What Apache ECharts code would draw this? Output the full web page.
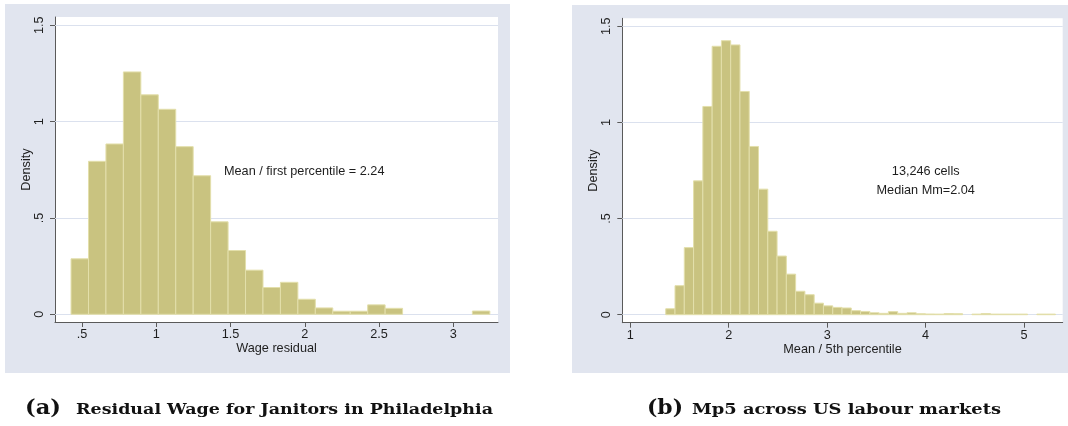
<!DOCTYPE html>
<html>
<head>
<meta charset="utf-8">
<script src="https://cdn.jsdelivr.net/npm/echarts@6/dist/echarts.min.js"></script>
<style>
html,body{margin:0;padding:0;background:#fff;}
#chart{width:1068px;height:426px;}
</style>
</head>
<body>
<div id="chart"></div>
<script>
// ---------- DATA ----------
// Panel (a): histogram of residual wage (density per bin)
const leftBinStart = 0.426;
const leftBinWidth = 0.1175;
const leftDensity = [0.288, 0.794, 0.884, 1.258, 1.139, 1.064, 0.870, 0.719, 0.480, 0.331,
                     0.229, 0.139, 0.166, 0.078, 0.033, 0.016, 0.016, 0.049, 0.031, 0,
                     0, 0, 0, 0.017];
// Panel (b): histogram of Mp5 across labour markets
const rightBinStart = 1.36;
const rightBinWidth = 0.09426;
const rightDensity = [0.031, 0.151, 0.349, 0.696, 1.083, 1.396, 1.425, 1.403, 1.161, 0.875,
                      0.653, 0.434, 0.305, 0.211, 0.122, 0.104, 0.060, 0.046, 0.038, 0.035,
                      0.021, 0.017, 0.010, 0.007, 0.016, 0.007, 0.010, 0.005, 0.0035, 0.003,
                      0.006, 0.005, 0, 0.003, 0.006, 0.003, 0.003, 0.003, 0.003, 0,
                      0.003, 0.003];
const leftXTicks = [0.5, 1, 1.5, 2, 2.5, 3];
const rightXTicks = [1, 2, 3, 4, 5];
const yTicks = [0, 0.5, 1, 1.5];
const leftXTitle = 'Wage residual';
const rightXTitle = 'Mean / 5th percentile';
const yTitle = 'Density';
const leftNote = 'Mean / first percentile = 2.24';
const rightNotes = ['13,246 cells', 'Median Mm=2.04'];
const captionA = ['(a)', 'Residual Wage for Janitors in Philadelphia'];
const captionB = ['(b)', 'Mp5 across US labour markets'];

// ---------- STYLE ----------
const SANS = '"Liberation Sans", Arial, sans-serif';
const SERIF = '"DejaVu Serif", "Liberation Serif", serif';
const TXT = '#1e1e1e';
const AXIS = '#5a5a5a';
const FILL = '#c9c380';
const EDGE = '#e3dfab';
const GRIDC = '#dbe1ee';
const BG = '#e1e5ef';
const FS = 12.7;

function fmt(v){ return String(v).replace(/^0\./, '.'); }

function bins(start, w, dens){
  return dens.map((d,i)=>[start + i*w, start + (i+1)*w, d]);
}

function renderBar(params, api){
  const h = api.value(2);
  if (!(h > 0)) return null;
  const p0 = api.coord([api.value(0), h]);
  const p1 = api.coord([api.value(1), 0]);
  return {type:'rect', shape:{x:p0[0], y:p0[1], width:p1[0]-p0[0], height:p1[1]-p0[1]},
          style:{fill:FILL, stroke:EDGE, lineWidth:1}};
}

function xAxisCfg(idx, min, max, ticks, title){
  return {
    type:'value', gridIndex:idx, min:min, max:max,
    axisLine:{show:true, onZero:false, lineStyle:{color:AXIS, width:1}},
    axisTick:{show:true, customValues:ticks, length:5, lineStyle:{color:AXIS, width:1}},
    axisLabel:{show:true, customValues:ticks, formatter:fmt, margin:6, fontSize:FS, fontFamily:SANS, color:TXT},
    splitLine:{show:false},
    name:title, nameLocation:'middle', nameGap:20, nameMoveOverlap:false,
    nameTextStyle:{fontSize:FS, fontFamily:SANS, color:TXT}
  };
}
function yAxisCfg(idx, min, max){
  return {
    type:'value', gridIndex:idx, min:min, max:max,
    axisLine:{show:true, onZero:false, lineStyle:{color:AXIS, width:1}},
    axisTick:{show:true, customValues:yTicks, length:5, lineStyle:{color:AXIS, width:1}},
    axisLabel:{show:true, customValues:yTicks, formatter:fmt, rotate:90, margin:9, fontSize:FS, fontFamily:SANS, color:TXT},
    splitLine:{show:false},
    name:yTitle, nameLocation:'middle', nameGap:22, nameMoveOverlap:false,
    nameTextStyle:{fontSize:FS, fontFamily:SANS, color:TXT}
  };
}
function gridLines(idx){
  return {
    type:'scatter', xAxisIndex:idx, yAxisIndex:idx, data:[], silent:true, z:1,
    markLine:{silent:true, symbol:'none', z:1, animation:false, label:{show:false},
      lineStyle:{color:GRIDC, width:1.2, type:'solid'},
      data: yTicks.map(v=>({yAxis:v}))}
  };
}

// measure text width for caption scaling
const cv = document.createElement('canvas').getContext('2d');
function tw(text, font){ cv.font = font; return cv.measureText(text).width; }
function capText(text, x, y, size, targetW){
  const font = 'bold ' + size + 'px ' + SERIF;
  const w = tw(text, font);
  return {type:'text', x:x, y:y, scaleX: targetW / w, originX:0, originY:0,
          style:{text:text, fontSize:size, fontWeight:'bold', fontFamily:SERIF, fill:'#111',
                 textAlign:'left', textVerticalAlign:'middle'}};
}

const chart = echarts.init(document.getElementById('chart'), null, {renderer:'canvas'});
chart.setOption({
  animation:false,
  backgroundColor:'#fff',
  grid:[
    {left:55, top:17, width:443, height:305, show:true, backgroundColor:'#fff', borderWidth:0},
    {left:622.3, top:18.3, width:440.4, height:304.4, show:true, backgroundColor:'#fff', borderWidth:0}
  ],
  xAxis:[
    xAxisCfg(0, 0.318, 3.301, leftXTicks, leftXTitle),
    xAxisCfg(1, 0.9187, 5.393, rightXTicks, rightXTitle)
  ],
  yAxis:[
    yAxisCfg(0, -0.040, 1.543),
    yAxisCfg(1, -0.0416, 1.5415)
  ],
  series:[
    gridLines(0),
    gridLines(1),
    {type:'custom', xAxisIndex:0, yAxisIndex:0, z:2, renderItem:renderBar,
     encode:{x:[0,1], y:2}, data:bins(leftBinStart, leftBinWidth, leftDensity)},
    {type:'custom', xAxisIndex:1, yAxisIndex:1, z:2, renderItem:renderBar,
     encode:{x:[0,1], y:2}, data:bins(rightBinStart, rightBinWidth, rightDensity)}
  ],
  graphic:[
    {type:'rect', z:-100, shape:{x:5, y:4, width:505, height:369}, style:{fill:BG}},
    {type:'rect', z:-100, shape:{x:572, y:5, width:496, height:368}, style:{fill:BG}},
    {type:'text', x:224, y:171, z:50, style:{text:leftNote, fontSize:FS, fontFamily:SANS, fill:TXT, textAlign:'left', textVerticalAlign:'middle'}},
    {type:'text', x:925.7, y:171, z:50, style:{text:rightNotes[0], fontSize:FS, fontFamily:SANS, fill:TXT, textAlign:'center', textVerticalAlign:'middle'}},
    {type:'text', x:925.7, y:190, z:50, style:{text:rightNotes[1], fontSize:FS, fontFamily:SANS, fill:TXT, textAlign:'center', textVerticalAlign:'middle'}},
    capText(captionA[0], 25, 409, 21, 36),
    capText(captionA[1], 76, 410.5, 14, 417),
    capText(captionB[0], 647, 409, 21, 36),
    capText(captionB[1], 692, 410.5, 14, 309)
  ]
});
</script>
</body>
</html>
